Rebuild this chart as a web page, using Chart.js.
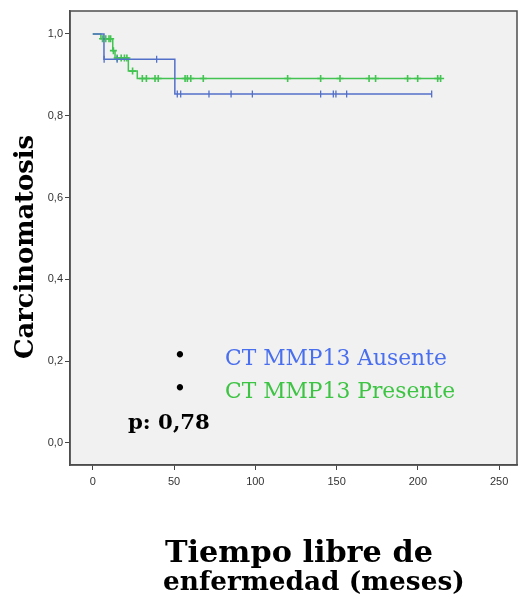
<!DOCTYPE html>
<html>
<head>
<meta charset="utf-8">
<script src="https://cdn.jsdelivr.net/npm/chart.js@4/dist/chart.umd.min.js"></script>
<style>
  html, body { margin: 0; padding: 0; background: #fff; }
  #wrap { width: 518px; height: 603px; position: relative; }
</style>
</head>
<body>
<div id="wrap"><canvas id="kmChart" width="518" height="603"></canvas></div>
<script>
// Kaplan-Meier steps (time in months, survival after event)
const ausenteTimes = [0, 6.9, 50.5, 208.5];
const ausenteSurv = [1.0, 0.938, 0.853, 0.853];
const ausenteCensored = [7, 15, 39.3, 52, 54.1, 71.5, 85.1, 98.2, 140.2, 148, 149.6, 156.2, 208.5];

const presenteTimes = [0, 5, 12.3, 13.7, 21.9, 27.4, 214];
const presenteSurv = [1.0, 0.988, 0.959, 0.941, 0.909, 0.891, 0.891];
const presenteCensored = [6, 8, 10, 11, 12.7, 15, 17.5, 19.5, 21, 24.5, 30.5, 33, 38.3, 40.3,
  56.8, 58.2, 60.3, 68, 119.9, 140.2, 152.1, 170, 174, 193.7, 199.9, 212.2, 214];

const xTicks = [0, 50, 100, 150, 200, 250];
const yTicks = [0, 0.2, 0.4, 0.6, 0.8, 1.0];

const blue = '#5370c9';
const green = '#43c452';

function steps(times, surv) {
  return times.map((t, i) => ({ x: t, y: surv[i] }));
}
function levelAt(times, surv, t) {
  let s = surv[0];
  for (let i = 0; i < times.length; i++) if (times[i] <= t) s = surv[i];
  return s;
}
function marks(censored, times, surv) {
  return censored.map(t => ({ x: t, y: levelAt(times, surv, t) }));
}

function fitFont(ctx, text, weight, family, width) {
  ctx.font = weight + ' 100px ' + family;
  return 100 * width / ctx.measureText(text).width;
}

const decor = {
  id: 'decor',
  beforeDraw(chart) {
    const { ctx, chartArea: a } = chart;
    ctx.save();
    ctx.fillStyle = '#f1f1f1';
    ctx.fillRect(a.left, a.top, a.right - a.left, a.bottom - a.top);
    ctx.restore();
  },
  afterDraw(chart) {
    const { ctx, chartArea: a } = chart;
    ctx.save();
    ctx.strokeStyle = '#4d4d4d';
    ctx.lineWidth = 1.5;
    ctx.strokeRect(a.left, a.top, a.right - a.left, a.bottom - a.top);

    const serif = '"DejaVu Serif", serif';
    // y title
    let s = fitFont(ctx, 'Carcinomatosis', 'bold', serif, 224);
    ctx.font = 'bold ' + s + 'px ' + serif;
    ctx.fillStyle = '#000';
    ctx.translate(33, 247);
    ctx.rotate(-Math.PI / 2);
    ctx.textAlign = 'center';
    ctx.textBaseline = 'alphabetic';
    ctx.fillText('Carcinomatosis', 0, 0);
    ctx.setTransform(1, 0, 0, 1, 0, 0);

    // x title
    ctx.textAlign = 'left';
    s = fitFont(ctx, 'Tiempo libre de', 'bold', serif, 268);
    ctx.font = 'bold ' + s + 'px ' + serif;
    ctx.fillText('Tiempo libre de', 165, 562);
    s = fitFont(ctx, 'enfermedad (meses)', 'bold', serif, 302);
    ctx.font = 'bold ' + s + 'px ' + serif;
    ctx.fillText('enfermedad (meses)', 163, 590);

    // legend text
    s = fitFont(ctx, 'CT MMP13 Ausente', 'normal', serif, 222);
    ctx.font = 'normal ' + s + 'px ' + serif;
    ctx.fillStyle = '#000';
    ctx.textAlign = 'center';
    ctx.fillText('•', 180, 363);
    ctx.fillText('•', 180, 396);
    ctx.textAlign = 'left';
    ctx.fillStyle = '#4a6fee';
    ctx.fillText('CT MMP13 Ausente', 225, 365);
    ctx.fillStyle = '#3ec444';
    ctx.fillText('CT MMP13 Presente', 225, 398);

    s = fitFont(ctx, 'p: 0,78', 'bold', serif, 82);
    ctx.font = 'bold ' + s + 'px ' + serif;
    ctx.fillStyle = '#000';
    ctx.fillText('p: 0,78', 128, 429);
    ctx.restore();
  }
};

const ctx = document.getElementById('kmChart').getContext('2d');
new Chart(ctx, {
  type: 'scatter',
  data: {
    datasets: [
      {
        type: 'line', label: 'CT MMP13 Ausente',
        data: steps(ausenteTimes, ausenteSurv),
        stepped: 'before', borderColor: blue, borderWidth: 1.5,
        pointRadius: 0, fill: false
      },
      {
        type: 'line', label: 'CT MMP13 Presente',
        data: steps(presenteTimes, presenteSurv),
        stepped: 'before', borderColor: green, borderWidth: 1.5,
        pointRadius: 0, fill: false
      },
      {
        label: 'Ausente censurado',
        data: marks(ausenteCensored, ausenteTimes, ausenteSurv),
        pointStyle: 'line', rotation: 90, radius: 3.5,
        borderColor: blue, borderWidth: 1.3, showLine: false
      },
      {
        label: 'Presente censurado',
        data: marks(presenteCensored, presenteTimes, presenteSurv),
        pointStyle: 'cross', radius: 3.5,
        borderColor: green, borderWidth: 1.6, showLine: false
      }
    ]
  },
  options: {
    responsive: false,
    animation: false,
    layout: { autoPadding: false, padding: { top: 11, right: 1, left: 0, bottom: 0 } },
    plugins: { legend: { display: false }, tooltip: { enabled: false } },
    scales: {
      x: {
        type: 'linear', min: -14, max: 261,
        afterBuildTicks: s => { s.ticks = xTicks.map(v => ({ value: v })); },
        afterFit: s => { s.height = 603 - 465; s.paddingLeft = 0; s.paddingRight = 0; },
        grid: { drawOnChartArea: false, drawTicks: true, tickLength: 5, color: '#444' },
        border: { display: true, color: '#4d4d4d', width: 1.5 },
        ticks: { font: { family: '"Liberation Sans", Arial', size: 11 }, color: '#333', padding: 5, maxRotation: 0, autoSkip: false }
      },
      y: {
        type: 'linear', min: -0.054, max: 1.056,
        afterBuildTicks: s => { s.ticks = yTicks.map(v => ({ value: v })); },
        afterFit: s => { s.width = 70; s.paddingTop = 0; s.paddingBottom = 0; },
        grid: { drawOnChartArea: false, drawTicks: true, tickLength: 5, color: '#444' },
        border: { display: true, color: '#4d4d4d', width: 1.5 },
        ticks: {
          font: { family: '"Liberation Sans", Arial', size: 11 }, color: '#333', padding: 2,
          callback: v => v.toFixed(1).replace('.', ',')
        }
      }
    }
  },
  plugins: [decor]
});
</script>
</body>
</html>
